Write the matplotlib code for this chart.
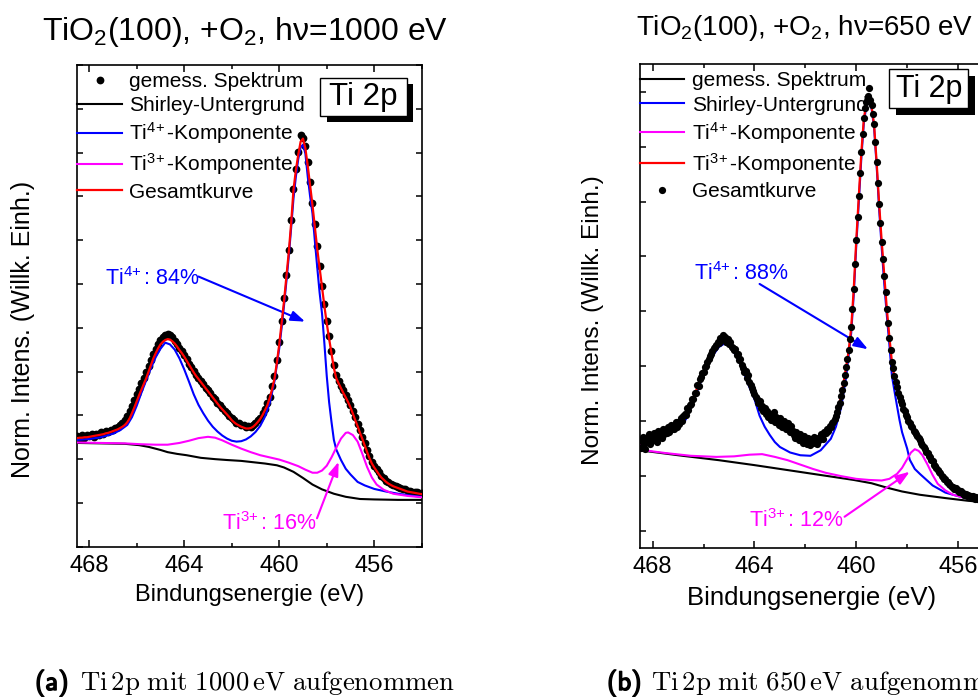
import numpy as np
import matplotlib
matplotlib.use("Agg")
import matplotlib.pyplot as plt
from matplotlib.patches import Rectangle
from matplotlib.ticker import MultipleLocator
import matplotlib.patheffects as pe

plt.rcParams["font.family"] = ["Liberation Sans", "DejaVu Sans"]
plt.rcParams["mathtext.fontset"] = "custom"
plt.rcParams["mathtext.rm"] = "Liberation Sans"
plt.rcParams["mathtext.it"] = "Liberation Sans:italic"
plt.rcParams["mathtext.bf"] = "Liberation Sans:bold"

# ---------------------------------------------------------------- data
# Binding-energy sweep start (eV); spectra are recorded towards lower energy
E_START = 468.5

# --- Ti 2p, h nu = 1000 eV -------------------------------------------
STEP_1000 = 0.1
spectrum_1000 = [
    0.252, 0.247, 0.254, 0.249, 0.255, 0.252, 0.257, 0.251, 0.258, 0.256,
    0.261, 0.258, 0.264, 0.262, 0.267, 0.266, 0.271, 0.274, 0.279, 0.283,
    0.290, 0.299, 0.309, 0.322, 0.335, 0.349, 0.360, 0.374, 0.386, 0.400,
    0.413, 0.426, 0.440, 0.452, 0.463, 0.472, 0.479, 0.484, 0.486, 0.483,
    0.480, 0.470, 0.463, 0.453, 0.446, 0.437, 0.428, 0.418, 0.410, 0.401,
    0.393, 0.386, 0.378, 0.372, 0.363, 0.357, 0.350, 0.342, 0.337, 0.329,
    0.323, 0.316, 0.311, 0.305, 0.299, 0.293, 0.289, 0.283, 0.282, 0.277,
    0.277, 0.274, 0.275, 0.274, 0.279, 0.282, 0.290, 0.295, 0.305, 0.315,
    0.328, 0.343, 0.366, 0.390, 0.427, 0.468, 0.516, 0.567, 0.620, 0.678,
    0.745, 0.818, 0.862, 0.902, 0.940, 0.934, 0.915, 0.878, 0.832, 0.785,
    0.737, 0.687, 0.640, 0.596, 0.554, 0.516, 0.481, 0.448, 0.414, 0.392,
    0.379, 0.368, 0.357, 0.346, 0.336, 0.324, 0.310, 0.296, 0.281, 0.266,
    0.251, 0.236, 0.221, 0.207, 0.194, 0.185, 0.177, 0.170, 0.162, 0.156,
    0.151, 0.148, 0.144, 0.141, 0.139, 0.136, 0.135, 0.132, 0.131, 0.128,
    0.127, 0.126, 0.125, 0.124, 0.123, 0.122,
]
fit_total_1000 = [
    0.248, 0.249, 0.249, 0.250, 0.250, 0.251, 0.252, 0.253, 0.254, 0.255,
    0.256, 0.257, 0.259, 0.260, 0.262, 0.264, 0.266, 0.268, 0.271, 0.274,
    0.278, 0.284, 0.293, 0.305, 0.318, 0.332, 0.346, 0.359, 0.372, 0.385,
    0.400, 0.415, 0.430, 0.442, 0.453, 0.462, 0.468, 0.472, 0.474, 0.473,
    0.469, 0.464, 0.457, 0.449, 0.442, 0.434, 0.425, 0.416, 0.407, 0.398,
    0.390, 0.383, 0.376, 0.369, 0.362, 0.355, 0.348, 0.341, 0.334, 0.327,
    0.320, 0.314, 0.308, 0.302, 0.296, 0.289, 0.284, 0.280, 0.277, 0.274,
    0.272, 0.270, 0.270, 0.271, 0.274, 0.279, 0.285, 0.292, 0.301, 0.312,
    0.323, 0.340, 0.360, 0.384, 0.420, 0.462, 0.510, 0.560, 0.615, 0.672,
    0.738, 0.815, 0.860, 0.895, 0.925, 0.932, 0.910, 0.870, 0.826, 0.780,
    0.730, 0.680, 0.636, 0.590, 0.550, 0.510, 0.475, 0.442, 0.408, 0.385,
    0.373, 0.362, 0.351, 0.341, 0.330, 0.318, 0.304, 0.289, 0.275, 0.260,
    0.246, 0.231, 0.216, 0.202, 0.190, 0.181, 0.173, 0.165, 0.158, 0.153,
    0.148, 0.144, 0.141, 0.138, 0.136, 0.134, 0.132, 0.130, 0.128, 0.126,
    0.125, 0.124, 0.123, 0.122, 0.121, 0.120,
]
shirley_1000_E = [468.5, 467.5, 466.5, 465.9, 465.5, 465.0, 464.7, 464.3, 463.9,
                  463.3, 462.7, 462.2, 461.6, 461.1, 460.6, 460.1, 459.8, 459.4,
                  459.0, 458.6, 458.2, 457.7, 457.2, 456.6, 456.0, 455.0, 454.0]
shirley_1000_I = [0.237, 0.236, 0.235, 0.232, 0.228, 0.221, 0.216, 0.212, 0.209,
                  0.203, 0.200, 0.198, 0.196, 0.193, 0.190, 0.186, 0.181, 0.171,
                  0.157, 0.142, 0.131, 0.121, 0.114, 0.109, 0.108, 0.107, 0.107]
ti4_1000_E = [468.5, 468.0, 467.5, 467.0, 466.7, 466.4, 466.2, 466.0, 465.8, 465.6,
              465.4, 465.2, 465.0, 464.8, 464.6, 464.4, 464.2, 464.0, 463.8, 463.6,
              463.4, 463.2, 463.0, 462.8, 462.6, 462.4, 462.2, 462.0, 461.8, 461.6,
              461.4, 461.2, 461.0, 460.8, 460.6, 460.4, 460.2, 460.0, 459.9, 459.8,
              459.7, 459.6, 459.5, 459.4, 459.3, 459.2, 459.1, 459.0, 458.9, 458.8,
              458.7, 458.6, 458.5, 458.4, 458.3, 458.2, 458.1, 458.0, 457.9, 457.8,
              457.7, 457.6, 457.4, 457.2, 457.0, 456.7, 456.4, 456.0, 455.5, 455.0,
              454.5, 454.0]
ti4_1000_I = [0.244, 0.246, 0.250, 0.258, 0.266, 0.278, 0.296, 0.322, 0.352, 0.380,
              0.408, 0.433, 0.452, 0.466, 0.462, 0.450, 0.430, 0.405, 0.377, 0.348,
              0.324, 0.305, 0.288, 0.274, 0.263, 0.254, 0.247, 0.242, 0.240, 0.241,
              0.245, 0.252, 0.262, 0.276, 0.297, 0.328, 0.378, 0.453, 0.500, 0.550,
              0.605, 0.662, 0.727, 0.795, 0.845, 0.885, 0.912, 0.918, 0.898, 0.845,
              0.800, 0.761, 0.698, 0.638, 0.580, 0.533, 0.465, 0.390, 0.330, 0.285,
              0.244, 0.222, 0.198, 0.178, 0.165, 0.148, 0.140, 0.132, 0.126, 0.121,
              0.117, 0.114]
ti3_1000_E = [468.5, 467.5, 466.5, 465.8, 465.2, 464.7, 464.2, 463.8, 463.4, 463.0,
              462.7, 462.4, 462.0, 461.6, 461.2, 460.8, 460.4, 460.0, 459.6, 459.2,
              458.9, 458.6, 458.4, 458.2, 458.0, 457.8, 457.6, 457.4, 457.2, 457.1,
              456.9, 456.7, 456.5, 456.3, 456.1, 455.9, 455.6, 455.2, 454.6, 454.0]
ti3_1000_I = [0.238, 0.237, 0.236, 0.234, 0.233, 0.233, 0.237, 0.242, 0.248, 0.251,
              0.249, 0.243, 0.233, 0.224, 0.216, 0.209, 0.204, 0.199, 0.192, 0.184,
              0.176, 0.169, 0.169, 0.174, 0.185, 0.204, 0.226, 0.247, 0.260, 0.261,
              0.255, 0.240, 0.212, 0.182, 0.158, 0.142, 0.130, 0.121, 0.116, 0.113]

# --- Ti 2p, h nu = 650 eV --------------------------------------------
STEP_650_SPEC = 0.05
STEP_650_FIT = 0.1
spectrum_650 = [
    0.166, 0.152, 0.171, 0.158, 0.149, 0.170, 0.163, 0.176, 0.159, 0.173,
    0.166, 0.178, 0.168, 0.162, 0.183, 0.172, 0.180, 0.169, 0.186, 0.177,
    0.184, 0.178, 0.190, 0.181, 0.193, 0.185, 0.192, 0.186, 0.198, 0.190,
    0.199, 0.195, 0.206, 0.201, 0.210, 0.214, 0.211, 0.224, 0.220, 0.230,
    0.232, 0.241, 0.240, 0.252, 0.251, 0.266, 0.265, 0.277, 0.280, 0.288,
    0.289, 0.298, 0.301, 0.307, 0.313, 0.318, 0.322, 0.327, 0.333, 0.336,
    0.338, 0.345, 0.343, 0.352, 0.350, 0.357, 0.349, 0.354, 0.345, 0.350,
    0.340, 0.345, 0.336, 0.334, 0.329, 0.331, 0.320, 0.323, 0.312, 0.313,
    0.303, 0.297, 0.290, 0.292, 0.279, 0.284, 0.271, 0.266, 0.261, 0.255,
    0.249, 0.244, 0.240, 0.233, 0.236, 0.224, 0.228, 0.218, 0.224, 0.213,
    0.219, 0.208, 0.214, 0.203, 0.211, 0.216, 0.199, 0.208, 0.202, 0.193,
    0.206, 0.196, 0.189, 0.201, 0.192, 0.185, 0.197, 0.188, 0.180, 0.191,
    0.183, 0.174, 0.169, 0.181, 0.172, 0.165, 0.177, 0.168, 0.160, 0.173,
    0.164, 0.158, 0.170, 0.162, 0.156, 0.168, 0.160, 0.172, 0.163, 0.158,
    0.170, 0.165, 0.177, 0.171, 0.168, 0.181, 0.178, 0.185, 0.183, 0.192,
    0.190, 0.196, 0.199, 0.204, 0.210, 0.216, 0.225, 0.234, 0.245, 0.257,
    0.270, 0.285, 0.298, 0.313, 0.329, 0.349, 0.371, 0.404, 0.441, 0.486,
    0.530, 0.572, 0.611, 0.652, 0.690, 0.724, 0.752, 0.770, 0.781, 0.792,
    0.806, 0.785, 0.776, 0.760, 0.741, 0.708, 0.672, 0.634, 0.595, 0.561,
    0.527, 0.496, 0.465, 0.435, 0.405, 0.378, 0.352, 0.330, 0.308, 0.296,
    0.283, 0.271, 0.263, 0.252, 0.244, 0.236, 0.231, 0.223, 0.219, 0.211,
    0.208, 0.200, 0.197, 0.192, 0.189, 0.183, 0.181, 0.176, 0.173, 0.169,
    0.166, 0.160, 0.157, 0.153, 0.150, 0.144, 0.142, 0.137, 0.134, 0.129,
    0.127, 0.121, 0.119, 0.114, 0.112, 0.107, 0.105, 0.100, 0.099, 0.095,
    0.094, 0.090, 0.089, 0.085, 0.084, 0.081, 0.081, 0.077, 0.078, 0.074,
    0.075, 0.071, 0.072, 0.069, 0.070, 0.066, 0.068, 0.064, 0.066, 0.063,
    0.064, 0.061, 0.063, 0.059, 0.062, 0.058, 0.060, 0.057, 0.059, 0.056,
    0.058,
]
fit_total_650 = [
    0.160, 0.162, 0.164, 0.166, 0.168, 0.170, 0.172, 0.174, 0.176, 0.178,
    0.180, 0.182, 0.185, 0.187, 0.190, 0.194, 0.199, 0.205, 0.213, 0.222,
    0.232, 0.243, 0.255, 0.267, 0.279, 0.290, 0.300, 0.310, 0.319, 0.327,
    0.334, 0.340, 0.344, 0.346, 0.345, 0.342, 0.337, 0.331, 0.323, 0.315,
    0.305, 0.295, 0.284, 0.274, 0.262, 0.250, 0.239, 0.230, 0.223, 0.217,
    0.212, 0.208, 0.204, 0.201, 0.198, 0.195, 0.191, 0.188, 0.185, 0.181,
    0.178, 0.174, 0.171, 0.167, 0.164, 0.161, 0.160, 0.160, 0.161, 0.163,
    0.166, 0.169, 0.173, 0.178, 0.184, 0.190, 0.198, 0.209, 0.225, 0.245,
    0.270, 0.298, 0.328, 0.370, 0.440, 0.530, 0.610, 0.690, 0.752, 0.779,
    0.785, 0.774, 0.740, 0.672, 0.595, 0.527, 0.465, 0.405, 0.354, 0.308,
    0.280, 0.260, 0.242, 0.229, 0.218, 0.207, 0.196, 0.188, 0.180, 0.172,
    0.164, 0.156, 0.148, 0.140, 0.133, 0.126, 0.118, 0.110, 0.104, 0.098,
    0.093, 0.088, 0.083, 0.080, 0.077, 0.074, 0.071, 0.069, 0.067, 0.065,
    0.063, 0.062, 0.060, 0.059, 0.058, 0.057,
]
shirley_650_E = [468.5, 467.0, 465.4, 464.0, 462.7, 461.4, 460.1, 459.4, 458.8,
                 458.2, 457.5, 456.5, 455.6, 455.0]
shirley_650_I = [0.147, 0.138, 0.129, 0.120, 0.111, 0.102, 0.093, 0.087, 0.079,
                 0.072, 0.066, 0.060, 0.055, 0.053]
ti4_650_E = [468.5, 468.0, 467.5, 467.0, 466.7, 466.4, 466.2, 466.0, 465.8, 465.6,
             465.4, 465.2, 465.0, 464.8, 464.6, 464.4, 464.2, 464.0, 463.8, 463.6,
             463.4, 463.2, 463.0, 462.6, 462.2, 461.8, 461.4, 461.0, 460.8, 460.6,
             460.4, 460.2, 460.1, 460.0, 459.9, 459.8, 459.7, 459.6, 459.5, 459.4,
             459.3, 459.2, 459.1, 459.0, 458.9, 458.8, 458.7, 458.6, 458.5, 458.4,
             458.3, 458.2, 458.0, 457.9, 457.7, 457.5, 457.0, 456.5, 456.2, 455.6,
             455.0]
ti4_650_I = [0.157, 0.166, 0.176, 0.189, 0.203, 0.236, 0.261, 0.285, 0.305, 0.322,
             0.335, 0.341, 0.337, 0.325, 0.308, 0.286, 0.262, 0.240, 0.210, 0.190,
             0.175, 0.162, 0.153, 0.143, 0.138, 0.137, 0.147, 0.168, 0.190, 0.224,
             0.280, 0.360, 0.430, 0.520, 0.600, 0.680, 0.745, 0.775, 0.782, 0.770,
             0.735, 0.665, 0.585, 0.515, 0.450, 0.393, 0.340, 0.283, 0.255, 0.228,
             0.202, 0.180, 0.150, 0.130, 0.113, 0.104, 0.083, 0.070, 0.066, 0.059,
             0.055]
ti3_650_E = [468.5, 467.5, 466.5, 465.5, 464.8, 464.2, 463.7, 463.2, 462.7, 462.2,
             461.7, 461.2, 460.6, 460.0, 459.5, 459.0, 458.7, 458.4, 458.2, 458.0,
             457.85, 457.7, 457.55, 457.4, 457.2, 457.0, 456.8, 456.5, 456.2, 455.7,
             455.0]
ti3_650_I = [0.148, 0.142, 0.137, 0.135, 0.136, 0.139, 0.140, 0.135, 0.129, 0.121,
             0.113, 0.106, 0.100, 0.095, 0.093, 0.092, 0.095, 0.104, 0.115, 0.131,
             0.143, 0.149, 0.146, 0.138, 0.121, 0.102, 0.086, 0.074, 0.066, 0.060,
             0.055]

LEGEND_LABELS = ["gemess. Spektrum", "Shirley-Untergrund", r"Ti$^{4\!+}$-Komponente",
                 r"Ti$^{3\!+}$-Komponente", "Gesamtkurve"]

BLUE, MAGENTA, RED = "#0000ff", "#ff00ff", "#ff0000"


def energies(values, step):
    """Binding-energy axis of a sweep starting at E_START."""
    return E_START - step * np.arange(len(values))


def style_axes(ax, ylim, xtick_size):
    ax.set_xlim(468.5, 454.0)
    ax.set_ylim(*ylim)
    ax.xaxis.set_major_locator(MultipleLocator(4))
    ax.xaxis.set_minor_locator(MultipleLocator(2))
    ax.yaxis.set_major_locator(MultipleLocator(0.1))
    ax.tick_params(axis="both", which="both", direction="in", top=True, right=True,
                   width=1.1, colors="black")
    ax.tick_params(axis="x", which="major", length=5, labelsize=xtick_size, pad=6)
    ax.tick_params(axis="x", which="minor", length=3)
    ax.tick_params(axis="y", which="major", length=4, labelleft=False)
    for s in ax.spines.values():
        s.set_linewidth(1.2)


def legend(ax, handles):
    ax.legend(handles, LEGEND_LABELS, loc="upper left",
              bbox_to_anchor=(0, 1 - 7 / 482), borderaxespad=0, borderpad=0.0,
              frameon=False, fontsize=15, handlelength=2.13, handletextpad=0.37,
              labelspacing=0.25)


def label_box(ax, x0, y0, w, h, dx, dy, size):
    ax.add_patch(Rectangle((x0 + dx, y0 - dy), w, h, transform=ax.transAxes,
                           fc="black", ec="none", zorder=8, clip_on=False))
    ax.add_patch(Rectangle((x0, y0), w, h, transform=ax.transAxes,
                           fc="white", ec="black", lw=1.0, zorder=9, clip_on=False))
    ax.text(x0 + w / 2, y0 + h / 2, "Ti 2p", transform=ax.transAxes,
            ha="center", va="center", fontsize=size, zorder=10)


def arrow(ax, tail, head, color):
    ax.annotate("", xy=head, xytext=tail,
                arrowprops=dict(arrowstyle="-|>,head_length=0.7,head_width=0.25",
                                color=color, lw=1.5, shrinkA=0, shrinkB=0,
                                mutation_scale=12))


fig = plt.figure(figsize=(9.79, 6.97), dpi=100)

# ---------------------------------------------------------------- 1000 eV
ax1 = fig.add_axes([0.0790, 0.2156, 0.3518, 0.6911])
m1, = ax1.plot(energies(spectrum_1000, STEP_1000), spectrum_1000, "o", color="black",
               ms=5.6, mew=0, zorder=2)
s1, = ax1.plot(shirley_1000_E, shirley_1000_I, color="black", lw=1.5, zorder=3)
b1, = ax1.plot(ti4_1000_E, ti4_1000_I, color=BLUE, lw=1.5, zorder=3)
p1, = ax1.plot(ti3_1000_E, ti3_1000_I, color=MAGENTA, lw=1.5, zorder=3)
r1, = ax1.plot(energies(fit_total_1000, STEP_1000), fit_total_1000, color=RED,
               lw=1.6, zorder=4)
style_axes(ax1, (0.0, 1.1), 17)
legend(ax1, [m1, s1, b1, p1, r1])
label_box(ax1, 0.7047, 0.8947, 0.2517, 0.0789, 0.0195, 0.0139, 22.5)

ax1.text(467.34, 0.598, r"Ti$^{4\!+}$: 84%", color=BLUE, fontsize=15.5,
         ha="left", va="baseline")
arrow(ax1, (463.40, 0.617), (458.91, 0.514), BLUE)
ax1.text(462.42, 0.038, r"Ti$^{3\!+}$: 16%", color=MAGENTA, fontsize=15.5,
         ha="left", va="baseline")
arrow(ax1, (458.41, 0.065), (457.50, 0.194), MAGENTA)

# ---------------------------------------------------------------- 650 eV
ax2 = fig.add_axes([0.6537, 0.2142, 0.3769, 0.6935])
s2, = ax2.plot(shirley_650_E, shirley_650_I, color="black", lw=1.5, zorder=2)
b2, = ax2.plot(ti4_650_E, ti4_650_I, color=BLUE, lw=1.5, zorder=2)
p2, = ax2.plot(ti3_650_E, ti3_650_I, color=MAGENTA, lw=1.5, zorder=2)
r2, = ax2.plot(energies(fit_total_650, STEP_650_FIT), fit_total_650, color=RED,
               lw=1.6, zorder=3)
m2, = ax2.plot(energies(spectrum_650, STEP_650_SPEC), spectrum_650, "o",
               color="black", ms=5.2, mew=0, zorder=4)
style_axes(ax2, (-0.0304, 0.850), 17)
legend(ax2, [s2, b2, p2, r2, m2])
label_box(ax2, 0.6756, 0.9090, 0.2141, 0.0813, 0.018, 0.0139, 22)

ax2.text(466.36, 0.458, r"Ti$^{4\!+}$: 88%", color=BLUE, fontsize=15.5,
         ha="left", va="baseline")
arrow(ax2, (463.80, 0.450), (459.54, 0.331), BLUE)
ax2.text(464.20, 0.008, r"Ti$^{3\!+}$: 12%", color=MAGENTA, fontsize=15.5,
         ha="left", va="baseline")
arrow(ax2, (460.46, 0.026), (457.90, 0.108), MAGENTA)

# ---------------------------------------------------------------- texts
fig.text(0.2503, 0.9426, "TiO$_2$(100), +O$_2$, hν=1000 eV", fontsize=23,
         ha="center", va="baseline")
fig.text(0.8223, 0.9498, "TiO$_2$(100), +O$_2$, hν=650 eV", fontsize=20,
         ha="center", va="baseline")
fig.text(0.2549, 1 - 601 / 697, "Bindungsenergie (eV)", fontsize=17,
         ha="center", va="baseline")
fig.text(0.8294, 1 - 605 / 697, "Bindungsenergie (eV)", fontsize=18.5,
         ha="center", va="baseline")
fig.text(0.0235, 0.528, "Norm. Intens. (Willk. Einh.)", fontsize=18,
         rotation=90, ha="center", va="center")
fig.text(0.6057, 0.541, "Norm. Intens. (Willk. Einh.)", fontsize=17.6,
         rotation=90, ha="center", va="center")

bold = [pe.withStroke(linewidth=1.0, foreground="black")]
CAP_Y = 1 - 690 / 697
fig.text(35 / 979, CAP_Y, "(a)", family="cmss10", fontsize=19.3,
         ha="left", va="baseline", path_effects=bold)
fig.text(80 / 979, CAP_Y, r"$\mathrm{Ti\,2p\ mit\ 1000\,eV\ aufgenommen}$",
         math_fontfamily="cm", fontsize=19.3, ha="left", va="baseline")
fig.text(607 / 979, CAP_Y, "(b)", family="cmss10", fontsize=19.3,
         ha="left", va="baseline", path_effects=bold)
fig.text(651 / 979, CAP_Y, r"$\mathrm{Ti\,2p\ mit\ 650\,eV\ aufgenommen}$",
         math_fontfamily="cm", fontsize=19.3, ha="left", va="baseline")

fig.savefig("out.png", dpi=100)
